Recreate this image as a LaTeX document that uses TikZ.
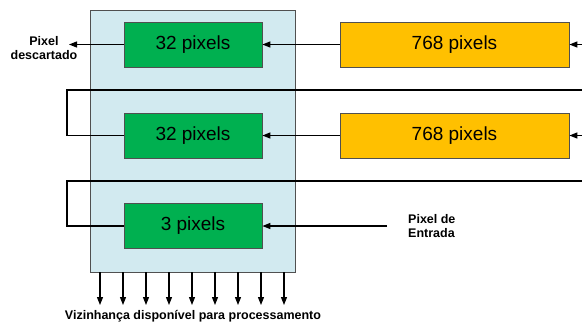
\documentclass[tikz,border=0pt]{standalone}
\usepackage{fontspec}
\setmainfont{Liberation Sans}
\usetikzlibrary{arrows.meta}
\definecolor{lblue}{RGB}{210,234,240}
\definecolor{gfill}{RGB}{0,176,80}
\definecolor{ofill}{RGB}{255,192,0}
\definecolor{edgec}{RGB}{80,80,80}
\begin{document}
\begin{tikzpicture}[x=1pt,y=-1pt,
  cell/.style={draw=edgec, line width=0.8pt, minimum height=45pt, inner sep=0pt,
    font=\fontsize{19}{22}\selectfont},
  gcell/.style={cell, fill=gfill, minimum width=138pt},
  ocell/.style={cell, fill=ofill, minimum width=229pt},
  wire/.style={line width=1.2pt, black},
  arr/.style={wire, -{Triangle[length=8pt,width=6pt]}},
  lbl/.style={font=\bfseries\fontsize{12.5}{14.5}\selectfont, inner sep=0pt}
]
\useasboundingbox (0,0) rectangle (582,325);
\node[draw=edgec, line width=0.8pt, fill=lblue, minimum width=205pt, minimum height=262pt,
  inner sep=0pt, anchor=north west] (buf) at (90,10) {};

\node[gcell] (g1) at (193,44.5) {32 pixels};
\node[gcell] (g2) at (193,135.5) {32 pixels};
\node[gcell] (g3) at (193,226) {3 pixels};
\node[ocell] (o1) at (454.5,44.5) {768 pixels};
\node[ocell] (o2) at (454.5,135.5) {768 pixels};

\coordinate (in1) at (582,44.5);
\coordinate (in2) at (582,135.5);
\coordinate (fb1r) at (582,90);
\coordinate (fb1l) at (67,90);
\coordinate (fb2r) at (582,181);
\coordinate (fb2l) at (67,181);
\coordinate (inpx) at (387,226);
\coordinate (disc) at (69,44.5);

\node[lbl, align=center] (ldisc) at (44,48) {Pixel\\descartado};
\node[lbl, align=left, anchor=west] (lin) at (408,226) {Pixel de\\Entrada};
\node[lbl] (lout) at (193,316) {Vizinhança disponível para processamento};

\draw[arr] (in1) -- (o1);
\draw[arr] (in2) -- (o2);
\draw[arr] (o1) -- (g1);
\draw[arr] (o2) -- (g2);
\draw[arr] (g1) -- (disc);
\draw[wire] (fb1r) -- (fb1l) |- (g2);
\draw[wire] (fb2r) -- (fb2l) |- (g3);
\draw[arr] (inpx) -- (g3);

\foreach \i in {0,...,8}{
  \coordinate (t\i) at (100+23*\i,272);
  \coordinate (b\i) at (100+23*\i,305);
  \draw[arr] (t\i) -- (b\i);
}
\end{tikzpicture}
\end{document}
